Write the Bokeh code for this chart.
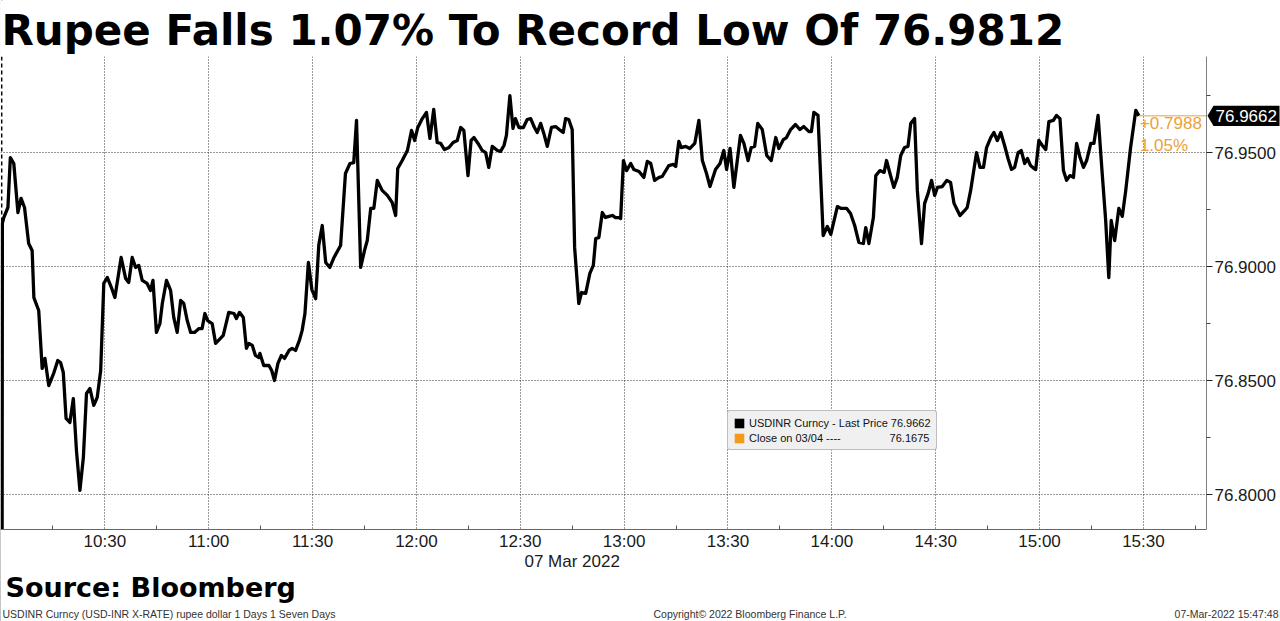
from bokeh.plotting import figure
from bokeh.models import (Range1d, FixedTicker, NumeralTickFormatter, Label, Span,
                          Legend, LegendItem, BoxAnnotation, PolyAnnotation)
from bokeh.embed import file_html
from bokeh.resources import INLINE

# ---------------- texts ----------------
title_text = "Rupee Falls 1.07% To Record Low Of 76.9812"
source_text = "Source: Bloomberg"
footer_left = "USDINR Curncy (USD-INR X-RATE) rupee dollar 1 Days 1 Seven Days"
footer_mid = "Copyright\u00a9 2022 Bloomberg Finance L.P."
footer_right = "07-Mar-2022 15:47:48"
date_text = "07 Mar 2022"
series_name = "USDINR Curncy"
close_name = "Close on 03/04"
last_price = 76.9662
prev_close = 76.1675
change_text = "+0.7988"
pct_text = "1.05%"

# ---------------- axes / plot window ----------------
x_tick_labels = ["10:30", "11:00", "11:30", "12:00", "12:30", "13:00",
                 "13:30", "14:00", "14:30", "15:00", "15:30"]
y_ticks = [76.80, 76.85, 76.90, 76.95]
y_minor_ticks = [76.825, 76.875, 76.925, 76.975]
plot_start, plot_end = -0.14, 348.22        # minutes after 10:00 (10:00 -> 15:48)
plot_bottom, plot_top = 76.7848, 76.9922
canvas_x = (-0.14, 369.6)                   # whole canvas in minutes
canvas_y = (76.7444, 77.0168)               # whole canvas in price
date_label_minute = 165                     # 12:45

# ---------------- data (minutes after 10:00, USDINR) ----------------
minutes = [
    0.0, 0.4, 0.8, 2.0, 2.7, 3.7, 4.9, 5.8, 6.8, 8.0,
    9.0, 9.5, 10.9, 11.9, 12.7, 13.8, 15.3, 16.4, 17.2, 18.0,
    18.8, 19.9, 20.9, 21.8, 22.8, 23.8, 24.7, 25.7, 26.8, 27.8,
    28.8, 29.7, 30.7, 31.9, 32.9, 34.7, 36.0, 36.9, 37.9, 38.9,
    39.8, 40.8, 42.2, 43.2, 43.9, 44.9, 45.9, 46.6, 47.8, 49.0,
    49.9, 50.9, 51.9, 52.8, 53.8, 54.8, 55.9, 57.2, 58.1, 58.9,
    59.7, 61.0, 62.0, 63.4, 64.2, 65.8, 67.3, 68.0, 68.9, 70.0,
    70.9, 71.6, 72.6, 73.5, 74.5, 74.8, 75.9, 77.4, 78.2, 79.0,
    80.0, 81.0, 81.9, 83.2, 84.1, 85.1, 86.2, 87.0, 87.8, 88.8,
    89.8, 90.9, 91.8, 92.8, 93.8, 95.0, 96.2, 98.1, 99.5, 100.8,
    101.9, 102.7, 103.9, 105.0, 105.8, 106.8, 107.7, 108.7, 110.1, 111.6,
    113.0, 114.0, 114.6, 115.9, 117.4, 118.6, 119.5, 120.4, 121.7, 122.9,
    123.9, 125.0, 126.0, 127.0, 128.1, 129.4, 130.6, 131.8, 132.8, 133.7,
    134.9, 135.8, 136.6, 137.8, 139.0, 140.0, 140.9, 141.9, 143.4, 144.3,
    145.3, 146.0, 147.0, 147.9, 148.6, 149.6, 150.9, 152.0, 153.0, 154.1,
    154.9, 155.9, 156.8, 157.8, 159.0, 160.2, 161.6, 162.4, 163.1, 164.0,
    165.0, 165.7, 166.9, 167.7, 168.9, 170.1, 171.1, 171.8, 172.7, 173.7,
    174.6, 175.6, 176.6, 177.5, 178.5, 179.0, 179.8, 180.7, 181.9, 182.8,
    184.3, 185.7, 186.7, 187.7, 188.8, 190.1, 191.0, 192.9, 194.2, 194.9,
    195.8, 196.5, 197.8, 199.0, 200.4, 201.6, 202.6, 203.8, 204.8, 206.4,
    207.7, 208.8, 209.6, 210.6, 211.7, 213.6, 214.6, 215.8, 216.7, 217.7,
    218.6, 219.9, 221.2, 222.5, 223.8, 224.7, 226.0, 226.9, 228.1, 229.5,
    230.8, 231.9, 233.4, 234.1, 234.8, 236.0, 237.5, 238.7, 239.7, 241.6,
    242.7, 244.3, 245.4, 246.6, 247.8, 249.1, 249.8, 250.7, 252.0, 252.7,
    253.9, 255.1, 255.8, 256.8, 257.9, 258.9, 259.9, 261.0, 262.0, 262.8,
    263.9, 264.7, 265.9, 266.8, 267.8, 268.8, 269.7, 270.5, 271.9, 273.2,
    274.3, 275.3, 276.3, 277.0, 278.4, 279.1, 280.1, 281.8, 282.8, 283.8,
    284.7, 285.9, 286.8, 287.8, 288.8, 289.9, 290.9, 291.9, 292.8, 293.8,
    294.7, 295.7, 296.5, 297.4, 298.4, 298.9, 299.8, 300.8, 301.8, 302.7,
    304.0, 304.9, 305.9, 306.9, 307.8, 308.8, 309.8, 310.7, 311.7, 312.7,
    313.6, 314.8, 315.7, 316.9, 318.1, 319.1, 320.0, 320.7, 321.7, 322.9,
    323.9, 324.9, 326.3, 327.8, 328.7,
]
usdinr = [
    76.1675, 76.9190, 76.9216, 76.9260, 76.9479, 76.9453, 76.9238, 76.9300, 76.9260, 76.9102,
    76.9071, 76.8865, 76.8808, 76.8554, 76.8598, 76.8479, 76.8536, 76.8589, 76.8580, 76.8536,
    76.8335, 76.8317, 76.8422, 76.8194, 76.8019, 76.8164, 76.8444, 76.8466, 76.8392, 76.8427,
    76.8545, 76.8927, 76.8953, 76.8909, 76.8865, 76.9041, 76.8949, 76.8931, 76.9041, 76.8997,
    76.9006, 76.8940, 76.8927, 76.8896, 76.8940, 76.8712, 76.8751, 76.8839, 76.8940, 76.8896,
    76.8778, 76.8712, 76.8852, 76.8839, 76.8764, 76.8712, 76.8712, 76.8729, 76.8729, 76.8795,
    76.8764, 76.8751, 76.8664, 76.8686, 76.8699, 76.8800, 76.8795, 76.8773, 76.8800, 76.8778,
    76.8642, 76.8664, 76.8655, 76.8611, 76.8602, 76.8620, 76.8567, 76.8567, 76.8545, 76.8501,
    76.8576, 76.8611, 76.8598, 76.8633, 76.8642, 76.8633, 76.8677, 76.8721, 76.8795, 76.9019,
    76.8900, 76.8860, 76.9095, 76.9181, 76.9019, 76.8997, 76.9041, 76.9093, 76.9409, 76.9453,
    76.9457, 76.9642, 76.8997, 76.9071, 76.9115, 76.9256, 76.9256, 76.9379, 76.9335, 76.9313,
    76.9282, 76.9225, 76.9431, 76.9466, 76.9510, 76.9598, 76.9554, 76.9611, 76.9650, 76.9677,
    76.9563, 76.9690, 76.9545, 76.9541, 76.9514, 76.9523, 76.9545, 76.9554, 76.9611, 76.9598,
    76.9400, 76.9554, 76.9567, 76.9541, 76.9510, 76.9501, 76.9436, 76.9528, 76.9510, 76.9506,
    76.9532, 76.9576, 76.9751, 76.9607, 76.9650, 76.9611, 76.9611, 76.9646, 76.9650, 76.9611,
    76.9589, 76.9629, 76.9585, 76.9528, 76.9611, 76.9615, 76.9598, 76.9589, 76.9650, 76.9646,
    76.9602, 76.9085, 76.8839, 76.8887, 76.8883, 76.8971, 76.9006, 76.9124, 76.9128, 76.9238,
    76.9216, 76.9221, 76.9225, 76.9216, 76.9216, 76.9212, 76.9466, 76.9422, 76.9453, 76.9427,
    76.9418, 76.9392, 76.9462, 76.9453, 76.9379, 76.9392, 76.9396, 76.9444, 76.9449, 76.9440,
    76.9550, 76.9523, 76.9528, 76.9519, 76.9541, 76.9642, 76.9466, 76.9409, 76.9352, 76.9427,
    76.9453, 76.9510, 76.9427, 76.9519, 76.9348, 76.9576, 76.9541, 76.9466, 76.9523, 76.9528,
    76.9629, 76.9602, 76.9488, 76.9466, 76.9567, 76.9519, 76.9558, 76.9567, 76.9602, 76.9624,
    76.9602, 76.9615, 76.9593, 76.9593, 76.9677, 76.9664, 76.9137, 76.9177, 76.9142, 76.9264,
    76.9256, 76.9256, 76.9234, 76.9181, 76.9107, 76.9102, 76.9172, 76.9102, 76.9216, 76.9400,
    76.9422, 76.9414, 76.9466, 76.9409, 76.9348, 76.9392, 76.9488, 76.9523, 76.9528, 76.9629,
    76.9650, 76.9335, 76.9102, 76.9278, 76.9321, 76.9379, 76.9313, 76.9348, 76.9352, 76.9379,
    76.9370, 76.9278, 76.9247, 76.9225, 76.9247, 76.9260, 76.9335, 76.9501, 76.9436, 76.9436,
    76.9523, 76.9567, 76.9589, 76.9554, 76.9589, 76.9532, 76.9475, 76.9427, 76.9436, 76.9501,
    76.9510, 76.9453, 76.9475, 76.9444, 76.9431, 76.9427, 76.9554, 76.9532, 76.9514, 76.9637,
    76.9642, 76.9664, 76.9650, 76.9422, 76.9379, 76.9400, 76.9392, 76.9541, 76.9479, 76.9436,
    76.9466, 76.9541, 76.9541, 76.9664, 76.9409, 76.9203, 76.8953, 76.9203, 76.9115, 76.9256,
    76.9221, 76.9335, 76.9523, 76.9686, 76.9662,
]
assert len(minutes) == len(usdinr)

# ---------------- styling ----------------
ORANGE = "#E9A23B"
ORANGE_SQ = "#F39A1C"
TICK_FONT = "Liberation Sans"
W, H = 1280, 621


def sy(page_y):
    """page-pixel y (from top) -> annotation screen units (from bottom)"""
    return H - page_y


def set_if(obj, **kw):
    props = obj.properties()
    for k, v in kw.items():
        if k in props:
            setattr(obj, k, v)


p = figure(width=W, height=H, output_backend="svg", toolbar_location=None,
           x_range=Range1d(*canvas_x), y_range=Range1d(*canvas_y),
           y_axis_location="right", title=None,
           min_border_left=0, min_border_right=0, min_border_top=0, min_border_bottom=0)
p.outline_line_color = None
p.background_fill_color = "white"
p.border_fill_color = "white"

# x axis
x_ticks = [(int(s[:2]) - 10) * 60 + int(s[3:]) for s in x_tick_labels]
x_minor = [t - 15 for t in x_ticks] + [x_ticks[-1] + 15]
xa = p.xaxis[0]
xa.fixed_location = plot_bottom
xa.bounds = (plot_start, plot_end)
xa.ticker = FixedTicker(ticks=x_ticks, minor_ticks=x_minor)
xa.major_label_overrides = {t: lab for t, lab in zip(x_ticks, x_tick_labels)}
xa.major_tick_in = 0
xa.major_tick_out = 0
xa.minor_tick_in = 4
xa.minor_tick_out = 0
xa.minor_tick_line_color = "#555555"
xa.axis_line_color = "#666666"
xa.major_label_text_font = TICK_FONT
xa.major_label_text_font_size = "17px"
xa.major_label_text_color = "#1a1a1a"
xa.major_label_standoff = 3

# y axis (right)
ya = p.yaxis[0]
ya.fixed_location = plot_end
ya.bounds = (plot_bottom, plot_top)
ya.ticker = FixedTicker(ticks=y_ticks, minor_ticks=y_minor_ticks)
ya.formatter = NumeralTickFormatter(format="0.0000")
ya.major_tick_in = 0
ya.major_tick_out = 6
ya.minor_tick_in = 0
ya.minor_tick_out = 4
ya.major_tick_line_color = "#222222"
ya.minor_tick_line_color = "#444444"
ya.axis_line_color = "#808080"
ya.major_label_text_font = TICK_FONT
ya.major_label_text_font_size = "17px"
ya.major_label_text_color = "#1a1a1a"
ya.major_label_standoff = 2

# grids
for g in (p.xgrid[0], p.ygrid[0]):
    g.grid_line_color = "#333333"
    g.grid_line_dash = "1 2"
    g.grid_line_width = 1

# day separator
p.add_layout(Span(location=0.2, dimension="height", line_color="black",
                  line_dash="4 3", line_width=1.5, level="underlay"))

# white masks outside the plotting window (hide grid lines there)
p.add_layout(BoxAnnotation(left=plot_end, fill_color="white", fill_alpha=1,
                           line_color=None, level="underlay"))
p.add_layout(BoxAnnotation(bottom=plot_top, fill_color="white", fill_alpha=1,
                           line_color=None, level="underlay"))

# data
p.line(minutes, usdinr, line_color="black", line_width=3.3, line_join="round")
p.line([minutes[-1], plot_end], [last_price, last_price], line_color=ORANGE, line_width=1)

# legend glyph holders (zero-size, at real data points)
sq_last = p.quad(left=[minutes[-1]], right=[minutes[-1]], top=[usdinr[-1]], bottom=[usdinr[-1]],
                 fill_color="black", line_color=None)
sq_close = p.quad(left=[minutes[0]], right=[minutes[0]], top=[prev_close], bottom=[prev_close],
                  fill_color=ORANGE_SQ, line_color=None)

bottom_mask = BoxAnnotation(top=plot_bottom, fill_color="white", fill_alpha=1,
                            line_color=None, level="glyph")
p.renderers.append(bottom_mask)

nb = "\u00a0"
legend = Legend(items=[
    LegendItem(label=f"{series_name} - Last Price {last_price:.4f}", renderers=[sq_last]),
    LegendItem(label=f"{close_name} ----" + nb * 16 + f"{prev_close:.4f}", renderers=[sq_close]),
], location=(727, sy(450)), orientation="vertical")
legend.background_fill_color = "#f0f0f0"
legend.background_fill_alpha = 1
legend.border_line_color = "#8c8c8c"
legend.border_line_width = 1
legend.label_text_font = TICK_FONT
legend.label_text_font_size = "11px"
legend.label_text_color = "#111111"
legend.glyph_width = 12
legend.glyph_height = 12
legend.label_height = 13
legend.label_standoff = 4
legend.spacing = 2
legend.padding = 5
legend.margin = 0
set_if(legend, border_radius=3)
p.add_layout(legend)

# change labels
p.add_layout(Label(x=minutes[-1], x_units="data", y=sy(116), y_units="screen", x_offset=1,
                   text=change_text, text_font=TICK_FONT, text_font_size="17px",
                   text_color=ORANGE, text_baseline="top"))
p.add_layout(Label(x=minutes[-1], x_units="data", y=sy(135), y_units="screen", x_offset=1,
                   text=pct_text, text_font=TICK_FONT, text_font_size="17px",
                   text_color=ORANGE, text_baseline="top"))

# last price tag on the price axis
half = 0.0044   # half tag height in price units (~10 px)
p.add_layout(PolyAnnotation(xs=[1207, 1213, 1279, 1279, 1213],
                            ys=[last_price, last_price + half, last_price + half,
                                last_price - half, last_price - half],
                            xs_units="screen", ys_units="data",
                            fill_color="black", fill_alpha=1, line_color=None))
p.add_layout(Label(x=1215, x_units="screen", y=last_price, y_units="data",
                   text=f"{last_price:.4f}", text_font=TICK_FONT, text_font_size="17px",
                   text_color="white", text_align="left", text_baseline="middle"))

# date under the time axis
p.add_layout(Label(x=date_label_minute, x_units="data", y=sy(561), y_units="screen",
                   text=date_text, text_font=TICK_FONT, text_font_size="17px",
                   text_color="#1a1a1a", text_align="center", text_baseline="middle"))

# title, source, footer (vertical centres)
p.add_layout(Label(x=1, x_units="screen", y=sy(30), y_units="screen",
                   text=title_text, text_font="DejaVu Sans", text_font_style="bold",
                   text_font_size="42px", text_color="black", text_baseline="middle"))
p.add_layout(Label(x=5, x_units="screen", y=sy(587), y_units="screen",
                   text=source_text, text_font="DejaVu Sans", text_font_style="bold",
                   text_font_size="27px", text_color="black", text_baseline="middle"))
for txt, xx, al in ((footer_left, 2, "left"), (footer_mid, 653, "left"),
                    (footer_right, 1278, "right")):
    p.add_layout(Label(x=xx, x_units="screen", y=sy(613), y_units="screen",
                       text=txt, text_font=TICK_FONT, text_font_size="10.5px",
                       text_color="#333333", text_align=al, text_baseline="middle"))

open("out.html", "w").write(file_html(p, INLINE))
